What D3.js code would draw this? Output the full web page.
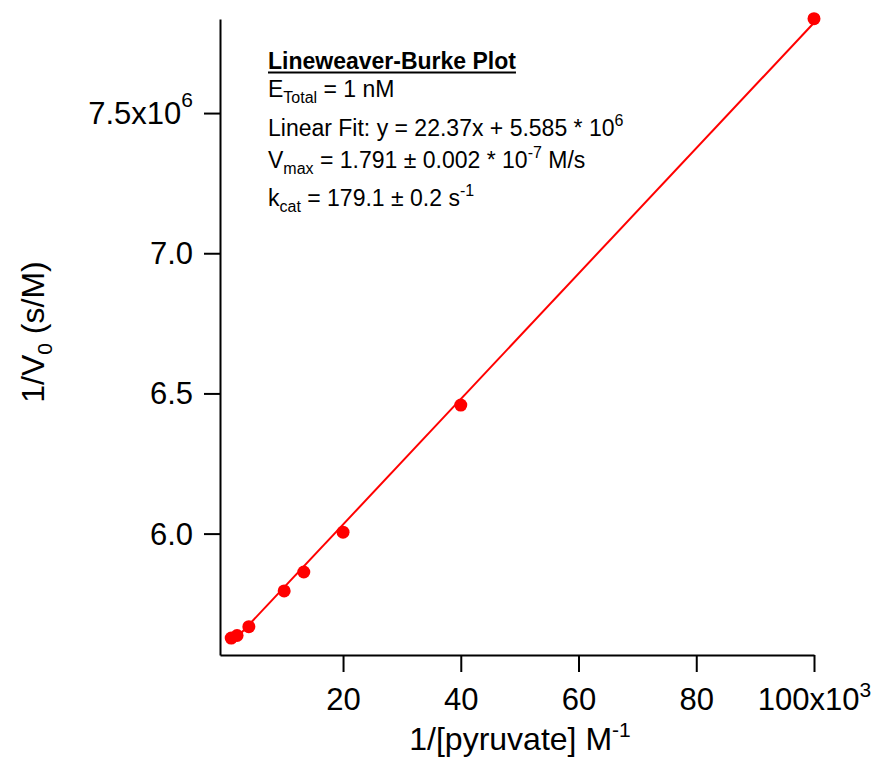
<!DOCTYPE html>
<html>
<head>
<meta charset="utf-8">
<script src="https://cdn.jsdelivr.net/npm/d3@7"></script>
<style>
  body { margin: 0; background: #fff; }
  svg text { font-family: "Liberation Sans", Arial, sans-serif; fill: #000; }
</style>
</head>
<body>
<svg id="chart" width="878" height="758"></svg>
<script>
// 1/[S] in M^-1 and 1/V0 in s/M
const invSubstrate = [1000, 2000, 4000, 10000, 13333, 20000, 40000, 100000];
const invRate = [5.6275e6, 5.6365e6, 5.668e6, 5.7955e6, 5.863e6, 6.005e6, 6.4586e6, 7.8365e6];

// linear fit from the legend
const fitSlope = 22.37;
const fitIntercept = 5.585e6;

const xTicks = [20000, 40000, 60000, 80000, 100000];
const xTickLabels = ['20', '40', '60', '80', '100x10'];
const xTickExp = ['', '', '', '', '3'];
const yTicks = [6.0e6, 6.5e6, 7.0e6, 7.5e6];
const yTickLabels = ['6.0', '6.5', '7.0', '7.5x10'];
const yTickExp = ['', '', '', '6'];

// annotation lines: [text, 'sub' | 'sup' | '']
const notes = [
  [['E', ''], ['Total', 'sub'], [' = 1 nM', '']],
  [['Linear Fit: y = 22.37x + 5.585 * 10', ''], ['6', 'sup']],
  [['V', ''], ['max', 'sub'], [' = 1.791 \u00b1 0.002 * 10', ''], ['-7', 'sup'], [' M/s', '']],
  [['k', ''], ['cat', 'sub'], [' = 179.1 \u00b1 0.2 s', ''], ['-1', 'sup']]
];
const noteTitle = 'Lineweaver-Burke Plot';

const svg = d3.select('#chart');

const x = d3.scaleLinear().domain([-900, 100000]).range([220, 814]);
const y = d3.scaleLinear().domain([5.567e6, 7.8355e6]).range([655, 19]);

// x axis
const gx = svg.append('g')
  .attr('transform', 'translate(0,655)')
  .call(d3.axisBottom(x).tickValues(xTicks).tickSize(17).tickSizeOuter(0));
gx.select('.domain').attr('stroke-width', 2);
gx.selectAll('.tick line').attr('stroke-width', 2);
gx.selectAll('.tick text').each(function (d, i) {
  const t = d3.select(this).text(null)
    .attr('y', 55).attr('dy', null)
    .style('font-size', '31px');
  t.append('tspan').text(xTickLabels[i]);
  if (xTickExp[i]) {
    t.append('tspan').attr('dy', -13).style('font-size', '21px').text(xTickExp[i]);
  }
});

// y axis
const gy = svg.append('g')
  .attr('transform', 'translate(220,0)')
  .call(d3.axisLeft(y).tickValues(yTicks).tickSize(16).tickSizeOuter(0).tickPadding(11));
gy.select('.domain').attr('stroke-width', 2);
gy.selectAll('.tick line').attr('stroke-width', 2);
gy.selectAll('.tick text').each(function (d, i) {
  const t = d3.select(this).text(null)
    .attr('dy', '0.34em')
    .style('font-size', '31px');
  t.append('tspan').text(yTickLabels[i]);
  if (yTickExp[i]) {
    t.append('tspan').attr('dy', -17).style('font-size', '21px').text(yTickExp[i]);
  }
});

// axis titles
const xt = svg.append('text')
  .attr('x', 520).attr('y', 750)
  .attr('text-anchor', 'middle')
  .style('font-size', '32px');
xt.append('tspan').text('1/[pyruvate] M');
xt.append('tspan').attr('dy', -13).style('font-size', '21px').text('-1');

const yt = svg.append('text')
  .attr('transform', 'translate(44,332) rotate(-90)')
  .attr('text-anchor', 'middle')
  .style('font-size', '32px');
yt.append('tspan').text('1/V');
yt.append('tspan').attr('dy', 8).style('font-size', '21px').text('0');
yt.append('tspan').attr('dy', -8).text(' (s/M)');

// fit line
const fitX = [invSubstrate[0], invSubstrate[invSubstrate.length - 1]];
svg.append('path')
  .datum(fitX)
  .attr('fill', 'none')
  .attr('stroke', '#ff0000')
  .attr('stroke-width', 2)
  .attr('d', d3.line().x((d) => x(d)).y((d) => y(fitSlope * d + fitIntercept)));

// data points
svg.selectAll('circle.pt')
  .data(invSubstrate.map((d, i) => ({ x: d, y: invRate[i] })))
  .enter()
  .append('circle')
  .attr('class', 'pt')
  .attr('cx', (d) => x(d.x))
  .attr('cy', (d) => y(d.y))
  .attr('r', 6.5)
  .attr('fill', '#ff0000');

// annotation box
const title = svg.append('text')
  .attr('x', 268).attr('y', 69)
  .style('font-size', '23px')
  .style('font-weight', 'bold')
  .text(noteTitle);
const tw = title.node().getComputedTextLength();
svg.append('line')
  .attr('x1', 268).attr('x2', 268 + tw)
  .attr('y1', 72.5).attr('y2', 72.5)
  .attr('stroke', '#000').attr('stroke-width', 2);

const baselines = [97, 136, 168, 206];
notes.forEach((parts, i) => {
  const t = svg.append('text')
    .attr('x', 268).attr('y', baselines[i])
    .style('font-size', '23px');
  let shift = 0;
  parts.forEach(([s, kind]) => {
    const target = kind === 'sub' ? 6 : kind === 'sup' ? -10 : 0;
    t.append('tspan')
      .attr('dy', target - shift)
      .style('font-size', kind ? '16px' : '23px')
      .text(s);
    shift = target;
  });
});
</script>
</body>
</html>
